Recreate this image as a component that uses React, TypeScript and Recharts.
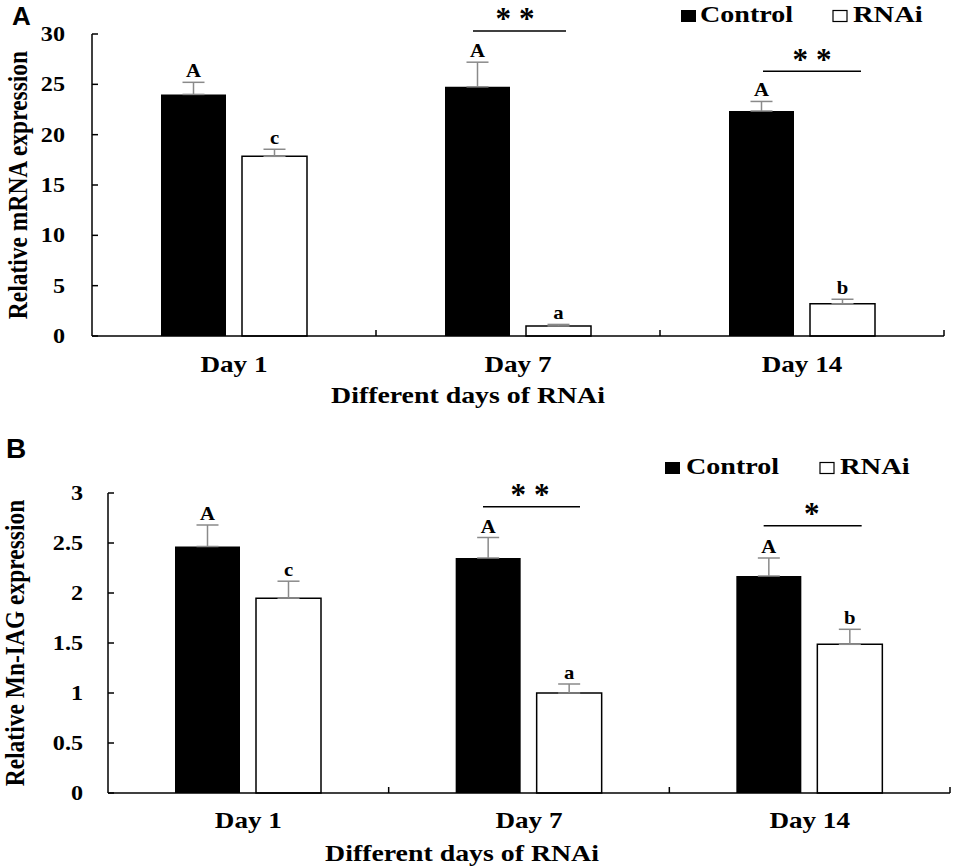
import React from 'react';
import { BarChart, Bar, XAxis, YAxis, ErrorBar, LabelList, ReferenceDot, Legend } from 'recharts';

const SERIF = "'Liberation Serif', 'Times New Roman', serif";
const SANS = "'Liberation Sans', Arial, sans-serif";

const days = ['Day 1', 'Day 7', 'Day 14'];

// A: relative mRNA expression
const mrnaControl = [24.0, 24.75, 22.35];
const mrnaControlErr = [1.2, 2.45, 0.95];
const mrnaRnai = [17.85, 1.0, 3.2];
const mrnaRnaiErr = [0.7, 0.15, 0.45];
const mrnaTicks = [0, 5, 10, 15, 20, 25, 30];
const mrnaSigDays = ['Day 7', 'Day 14'];
const mrnaSigLevel = [30.3, 26.3];
const mrnaSigMarks = ['**', '**'];

// B: relative Mn-IAG expression
const iagControl = [2.465, 2.35, 2.17];
const iagControlErr = [0.215, 0.205, 0.18];
const iagRnai = [1.948, 1.0, 1.487];
const iagRnaiErr = [0.17, 0.09, 0.15];
const iagTicks = [0, 0.5, 1, 1.5, 2, 2.5, 3];
const iagSigDays = ['Day 7', 'Day 14'];
const iagSigLevel = [2.863, 2.673];
const iagSigMarks = ['**', '*'];

const controlLetters = ['A', 'A', 'A'];
const rnaiLetters = ['c', 'a', 'b'];

const buildRows = (c: number[], ce: number[], r: number[], re: number[]) =>
  days.map((day, i) => ({
    day,
    control: c[i],
    controlErr: [0, ce[i]],
    rnai: r[i],
    rnaiErr: [0, re[i]],
    controlLetter: controlLetters[i],
    rnaiLetter: rnaiLetters[i],
  }));

// the original figure is stretched sideways, so text gets a horizontal scale
function WideText({ x, y, size, anchor = 'start', sx = 1.15, baseline, children }: any) {
  return (
    <text
      transform={`translate(${x},${y}) scale(${sx},1)`}
      textAnchor={anchor}
      dominantBaseline={baseline}
      fontSize={size}
      fontWeight="bold"
      fontFamily={SERIF}
      fill="#000"
    >
      {children}
    </text>
  );
}

const letterContent = (values: number[], errs: number[]) => (props: any) => {
  const vb = props.viewBox ?? props;
  const { x, y, width, height } = vb;
  const i = props.index ?? 0;
  const perUnit = Math.abs(height) / values[i];
  const top = Math.min(y, y + height) - errs[i] * perUnit;
  return (
    <WideText x={x + width / 2} y={top - 5} size={18} anchor="middle">
      {props.value}
    </WideText>
  );
};

function ValueTick({ x, y, payload, gap }: any) {
  return (
    <g>
      <WideText x={x} y={y} size={21} anchor="end" sx={1.15} baseline="central">
        {payload.value}
      </WideText>
      <line x1={x + gap} x2={x + gap + 6} y1={y} y2={y} stroke="#000" strokeWidth={1.5} />
    </g>
  );
}

function DayTick({ x, y, payload, half, dy }: any) {
  return (
    <g>
      <WideText x={x} y={y + dy} size={24} anchor="middle" sx={1.13}>
        {payload.value}
      </WideText>
      <line x1={x + half} x2={x + half} y1={y} y2={y - 6} stroke="#000" strokeWidth={1.5} />
    </g>
  );
}

function SigMark({ cx, cy, from, to, starDx, mark }: any) {
  return (
    <g>
      <line x1={cx + from} x2={cx + to} y1={cy} y2={cy} stroke="#000" strokeWidth={1.5} />
      <text x={cx + starDx + 4} y={cy - 1.5} textAnchor="middle" fontSize={31} fontWeight="bold" fontFamily={SERIF} letterSpacing={8} fill="#000">
        {mark}
      </text>
    </g>
  );
}

function LegendBox({ y, boxX, textX, box2X, text2X }: any) {
  return (
    <svg width={955} height={60} style={{ display: 'block' }}>
      <rect x={boxX} y={y - 12} width={15} height={12} fill="#000" />
      <WideText x={textX} y={y} size={24} sx={1.17}>Control</WideText>
      <rect x={box2X} y={y - 11.5} width={14} height={11} fill="#fff" stroke="#000" strokeWidth={1.2} />
      <WideText x={text2X} y={y} size={24} sx={1.19}>RNAi</WideText>
    </svg>
  );
}

type PanelProps = {
  height: number;
  marginTop: number;
  marginRight: number;
  yAxisWidth: number;
  xAxisHeight: number;
  tickGap: number;
  max: number;
  ticks: number[];
  control: number[];
  controlErr: number[];
  rnai: number[];
  rnaiErr: number[];
  sigDays: string[];
  sigLevel: number[];
  sigMarks: string[];
  sigShape: { from: number; to: number; starDx: number }[];
  yTitle: string;
  yTitleX: number;
  xTitleX: number;
  xTitleBaseline: number;
  dayDy: number;
  legend: { y: number; boxX: number; textX: number; box2X: number; text2X: number };
};

function Panel(p: PanelProps) {
  const width = 955;
  const rows = buildRows(p.control, p.controlErr, p.rnai, p.rnaiErr);
  const plotWidth = width - p.yAxisWidth - p.marginRight;
  const plotHeight = p.height - p.marginTop - p.xAxisHeight;
  const half = plotWidth / 6;

  return (
    <BarChart
      width={width}
      height={p.height}
      data={rows}
      margin={{ top: p.marginTop, right: p.marginRight, bottom: 0, left: 0 }}
      barSize={65}
      barGap={16}
    >
      <XAxis
        dataKey="day"
        height={p.xAxisHeight}
        interval={0}
        tickSize={0}
        tickMargin={0}
        tickLine={false}
        axisLine={{ stroke: '#000', strokeWidth: 1.5 }}
        tick={(t: any) => <DayTick {...t} half={half} dy={p.dayDy} />}
        label={{
          content: () => (
            <WideText x={p.xTitleX} y={p.xTitleBaseline} size={24} anchor="middle" sx={1.16}>
              Different days of RNAi
            </WideText>
          ),
        }}
      />
      <YAxis
        type="number"
        domain={[0, p.max]}
        ticks={p.ticks}
        width={p.yAxisWidth}
        tickSize={0}
        tickMargin={p.tickGap}
        tickLine={false}
        axisLine={{ stroke: '#000', strokeWidth: 1.5 }}
        tick={(t: any) => <ValueTick {...t} gap={p.tickGap} />}
        label={{
          content: () => {
            const cy = p.marginTop + plotHeight / 2;
            return (
              <text
                transform={`translate(${p.yTitleX},${cy}) rotate(-90) scale(1,1.12)`}
                textAnchor="middle"
                dominantBaseline="central"
                fontSize={23.5}
                fontWeight="bold"
                fontFamily={SERIF}
                fill="#000"
              >
                {p.yTitle}
              </text>
            );
          },
        }}
      />
      <Legend
        layout="horizontal"
        verticalAlign="middle"
        align="center"
        wrapperStyle={{ top: 0, left: 0, width: 955, height: 60 }}
        content={() => <LegendBox {...p.legend} />}
      />
      <Bar dataKey="control" name="Control" fill="#000" isAnimationActive={false}>
        <ErrorBar dataKey="controlErr" width={11} stroke="#8a8a8a" strokeWidth={1.5} direction="y" />
        <LabelList dataKey="controlLetter" content={letterContent(p.control, p.controlErr)} />
      </Bar>
      <Bar dataKey="rnai" name="RNAi" fill="#fff" stroke="#000" strokeWidth={1.5} isAnimationActive={false}>
        <ErrorBar dataKey="rnaiErr" width={11} stroke="#8a8a8a" strokeWidth={1.5} direction="y" />
        <LabelList dataKey="rnaiLetter" content={letterContent(p.rnai, p.rnaiErr)} />
      </Bar>
      {p.sigDays.map((d, i) => (
        <ReferenceDot
          key={d}
          x={d}
          y={p.sigLevel[i]}
          ifOverflow="visible"
          shape={(s: any) => <SigMark cx={s.cx} cy={s.cy} mark={p.sigMarks[i]} {...p.sigShape[i]} />}
        />
      ))}
    </BarChart>
  );
}

export default function App() {
  return (
    <div style={{ position: 'absolute', left: 0, top: 0, width: 955, height: 868, background: '#fff', overflow: 'hidden' }}>
      <div style={{ position: 'absolute', left: 0, top: 0 }}>
        <Panel
          height={420}
          marginTop={34}
          marginRight={11}
          yAxisWidth={92}
          xAxisHeight={84}
          tickGap={27}
          max={30}
          ticks={mrnaTicks}
          control={mrnaControl}
          controlErr={mrnaControlErr}
          rnai={mrnaRnai}
          rnaiErr={mrnaRnaiErr}
          sigDays={mrnaSigDays}
          sigLevel={mrnaSigLevel}
          sigMarks={mrnaSigMarks}
          sigShape={[
            { from: -45, to: 48, starDx: -3 },
            { from: -39, to: 59, starDx: 10 },
          ]}
          yTitle="Relative mRNA expression"
          yTitleX={18}
          xTitleX={468}
          xTitleBaseline={403}
          dayDy={36}
          legend={{ y: 22, boxX: 681, textX: 700, box2X: 833, text2X: 853 }}
        />
      </div>
      <div style={{ position: 'absolute', left: 0, top: 430 }}>
        <Panel
          height={438}
          marginTop={63}
          marginRight={5}
          yAxisWidth={108}
          xAxisHeight={75}
          tickGap={25}
          max={3}
          ticks={iagTicks}
          control={iagControl}
          controlErr={iagControlErr}
          rnai={iagRnai}
          rnaiErr={iagRnaiErr}
          sigDays={iagSigDays}
          sigLevel={iagSigLevel}
          sigMarks={iagSigMarks}
          sigShape={[
            { from: -46, to: 51, starDx: 1 },
            { from: -46, to: 52, starDx: 2 },
          ]}
          yTitle="Relative Mn-IAG expression"
          yTitleX={15}
          xTitleX={462}
          xTitleBaseline={431}
          dayDy={35}
          legend={{ y: 44, boxX: 665, textX: 686, box2X: 820, text2X: 840 }}
        />
      </div>
      <div style={{ position: 'absolute', left: 12, top: 3, fontFamily: SANS, fontWeight: 'bold', fontSize: 26, lineHeight: '26px' }}>A</div>
      <div style={{ position: 'absolute', left: 6, top: 435, fontFamily: SANS, fontWeight: 'bold', fontSize: 28, lineHeight: '28px' }}>B</div>
    </div>
  );
}
